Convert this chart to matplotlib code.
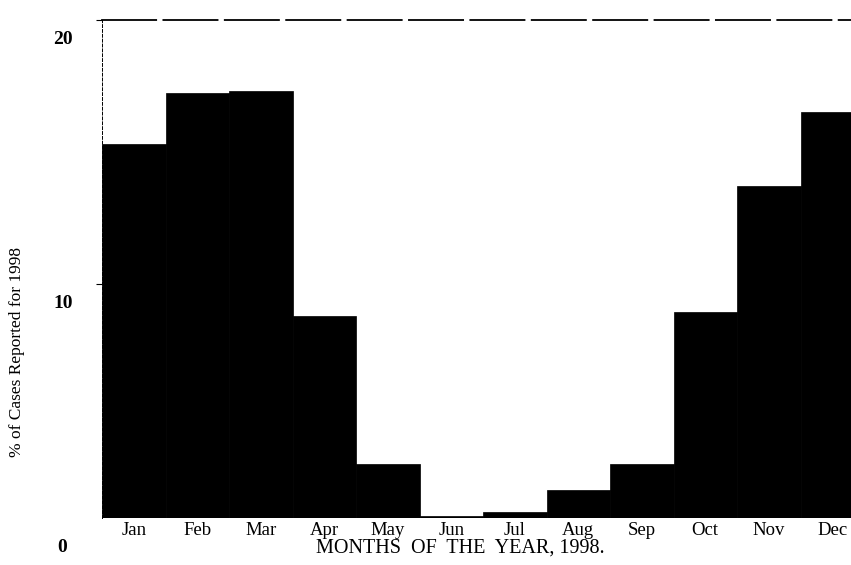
import numpy as np
import matplotlib
matplotlib.use('Agg')
import matplotlib.pyplot as plt
import matplotlib.transforms as mtransforms

plt.rcParams['font.family'] = ['Liberation Serif', 'DejaVu Serif']

# data (% of cases per month, 1998)
months = ['Jan', 'Feb', 'Mar', 'Apr', 'May', 'Jun',
          'Jul', 'Aug', 'Sep', 'Oct', 'Nov', 'Dec']
cases = [15.3, 17.25, 17.3, 8.8, 3.2, 1.2,
         1.35, 2.2, 3.2, 8.95, 13.7, 16.5]
yticks = [0, 10, 20]

fig = plt.figure(figsize=(8.51, 5.65), dpi=100)
# the scan is cropped on the right, so the axes runs past the figure edge
ax = fig.add_axes([102 / 851, 47 / 565, 762 / 851, 498 / 565])

x = np.arange(len(months))
ax.bar(x, cases, width=1.0, bottom=0, color='black', edgecolor='black', linewidth=0.5)

# baseline of the bars sits a bit above the printed "0"
ax.set_xlim(-0.5, 11.5)
ax.set_ylim(20 - 498 / 26.4, 20)

ax.set_xticks(x)
ax.set_xticklabels(months, fontsize=13.5)
ax.tick_params(axis='x', length=0, pad=3)

ax.set_yticks(yticks[1:])
ax.set_yticklabels([str(v) for v in yticks[1:]], fontsize=14, fontweight='bold')
ax.tick_params(axis='y', length=4, width=0.8, pad=17, direction='out')

# tick labels in the scan sit lower than their ticks
shift = mtransforms.ScaledTranslation(0, -0.18, fig.dpi_scale_trans)
for lbl in ax.get_yticklabels():
    lbl.set_transform(lbl.get_transform() + shift)

trans0 = mtransforms.blended_transform_factory(ax.transAxes, ax.transData)
ax.text(0, yticks[0], str(yticks[0]), fontsize=14, fontweight='bold',
        ha='right', va='center', clip_on=False,
        transform=trans0 + mtransforms.ScaledTranslation(-0.35, 0, fig.dpi_scale_trans))

ax.spines['bottom'].set_visible(False)
ax.spines['right'].set_visible(False)
ax.spines['top'].set_linewidth(1.3)
ax.spines['top'].set_linestyle((0, (30, 4)))
ax.spines['left'].set_linewidth(0.7)
ax.spines['left'].set_linestyle((0, (3, 2)))

fig.text(460 / 851, 1 - 548 / 565, 'MONTHS  OF  THE  YEAR, 1998.',
         fontsize=14.5, ha='center', va='center')
fig.text(17 / 851, 1 - 352 / 565, '% of Cases Reported for 1998',
         fontsize=12.5, rotation=90, ha='center', va='center')

fig.savefig('out.png', dpi=100)
